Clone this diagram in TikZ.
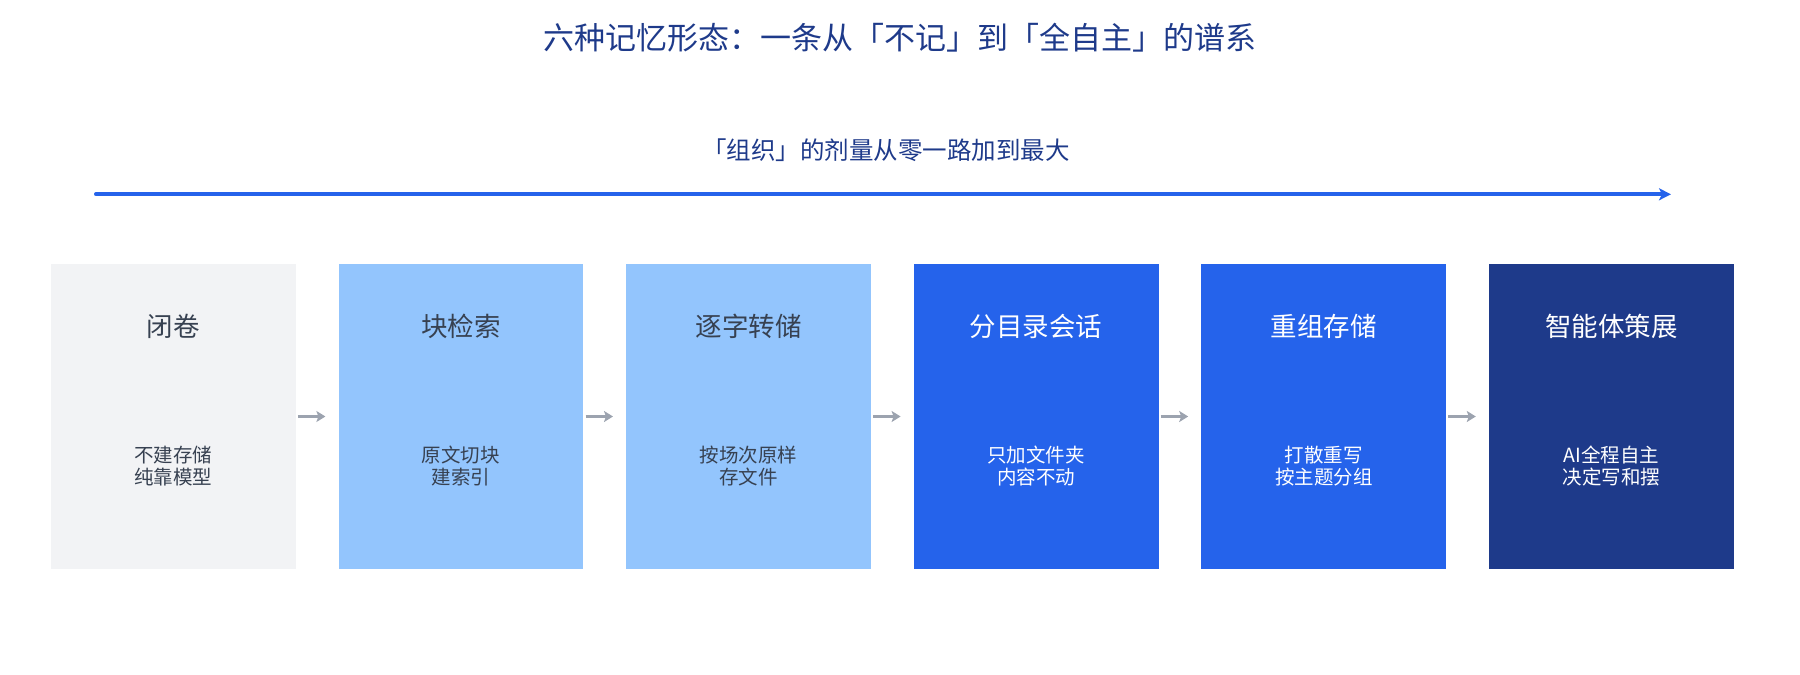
\documentclass[tikz,border=0pt]{standalone}
\usepackage{fontspec}
\setmainfont{Noto Sans CJK SC}
\usetikzlibrary{arrows.meta}
\definecolor{titlecol}{HTML}{1E3A8A}
\definecolor{graycol}{HTML}{F2F3F5}
\definecolor{lightcol}{HTML}{93C5FD}
\definecolor{midcol}{HTML}{2563EB}
\definecolor{darkcol}{HTML}{1E3A8A}
\definecolor{inkcol}{HTML}{374151}
\definecolor{arrowcol}{HTML}{9CA3AF}
\tikzset{
  stage/.style={minimum width=244.7bp,minimum height=305bp,inner sep=0pt},
  stagename/.style={font=\fontsize{26.5bp}{30bp}\selectfont},
  stagenote/.style={font=\fontsize{19.5bp}{22.5bp}\selectfont,align=center},
  hop/.style={draw=arrowcol,line width=3bp,-{Stealth[length=9bp,width=11bp,inset=2bp]}},
}
\begin{document}
\begin{tikzpicture}[line join=bevel]
\useasboundingbox (0bp,0bp) rectangle (1800bp,-675bp);
  % Title
  \node[text=titlecol,font=\fontsize{31bp}{36bp}\selectfont] (title) at (900bp,-38bp) {六种记忆形态：一条从「不记」到「全自主」的谱系};
  % Axis
  \coordinate (axisL) at (96bp,-194.3bp);
  \coordinate (axisR) at (1671bp,-194.3bp);
  \node[text=titlecol,font=\fontsize{24.5bp}{28bp}\selectfont] (axislabel) at (886bp,-150bp) {「组织」的剂量从零一路加到最大};
  \draw[midcol,line width=4bp,line cap=round,-{Stealth[length=12bp,width=12bp,inset=3bp]}] (axisL) -- (axisR);
  % Node: closed
  \node[stage,fill=graycol] (closed) at (173.35bp,-416.5bp) {};
  \node[stagename,text=inkcol] (closedname) at (173.35bp,-326bp) {闭卷};
  \node[stagenote,text=inkcol] (closednote) at (173.35bp,-466bp) {不建存储\\纯靠模型};
  % Node: chunk
  \node[stage,fill=lightcol] (chunk) at (460.95bp,-416.5bp) {};
  \node[stagename,text=inkcol] (chunkname) at (460.95bp,-326bp) {块检索};
  \node[stagenote,text=inkcol] (chunknote) at (460.95bp,-466bp) {原文切块\\建索引};
  % Node: verbatim
  \node[stage,fill=lightcol] (verbatim) at (748.55bp,-416.5bp) {};
  \node[stagename,text=inkcol] (verbatimname) at (748.55bp,-326bp) {逐字转储};
  \node[stagenote,text=inkcol] (verbatimnote) at (748.55bp,-466bp) {按场次原样\\存文件};
  % Node: folders
  \node[stage,fill=midcol] (folders) at (1036.15bp,-416.5bp) {};
  \node[stagename,text=white] (foldersname) at (1036.15bp,-326bp) {分目录会话};
  \node[stagenote,text=white] (foldersnote) at (1036.15bp,-466bp) {只加文件夹\\内容不动};
  % Node: regroup
  \node[stage,fill=midcol] (regroup) at (1323.75bp,-416.5bp) {};
  \node[stagename,text=white] (regroupname) at (1323.75bp,-326bp) {重组存储};
  \node[stagenote,text=white] (regroupnote) at (1323.75bp,-466bp) {打散重写\\按主题分组};
  % Node: agent
  \node[stage,fill=darkcol] (agent) at (1611.35bp,-416.5bp) {};
  \node[stagename,text=white] (agentname) at (1611.35bp,-326bp) {智能体策展};
  \node[stagenote,text=white] (agentnote) at (1611.35bp,-466bp) {AI全程自主\\决定写和摆};
  % Edge: closed -> chunk
  \draw[hop] ([xshift=2bp]closed.east) -- ([xshift=-13bp]chunk.west);
  % Edge: chunk -> verbatim
  \draw[hop] ([xshift=2bp]chunk.east) -- ([xshift=-13bp]verbatim.west);
  % Edge: verbatim -> folders
  \draw[hop] ([xshift=2bp]verbatim.east) -- ([xshift=-13bp]folders.west);
  % Edge: folders -> regroup
  \draw[hop] ([xshift=2bp]folders.east) -- ([xshift=-13bp]regroup.west);
  % Edge: regroup -> agent
  \draw[hop] ([xshift=2bp]regroup.east) -- ([xshift=-13bp]agent.west);
%
\end{tikzpicture}
\end{document}
